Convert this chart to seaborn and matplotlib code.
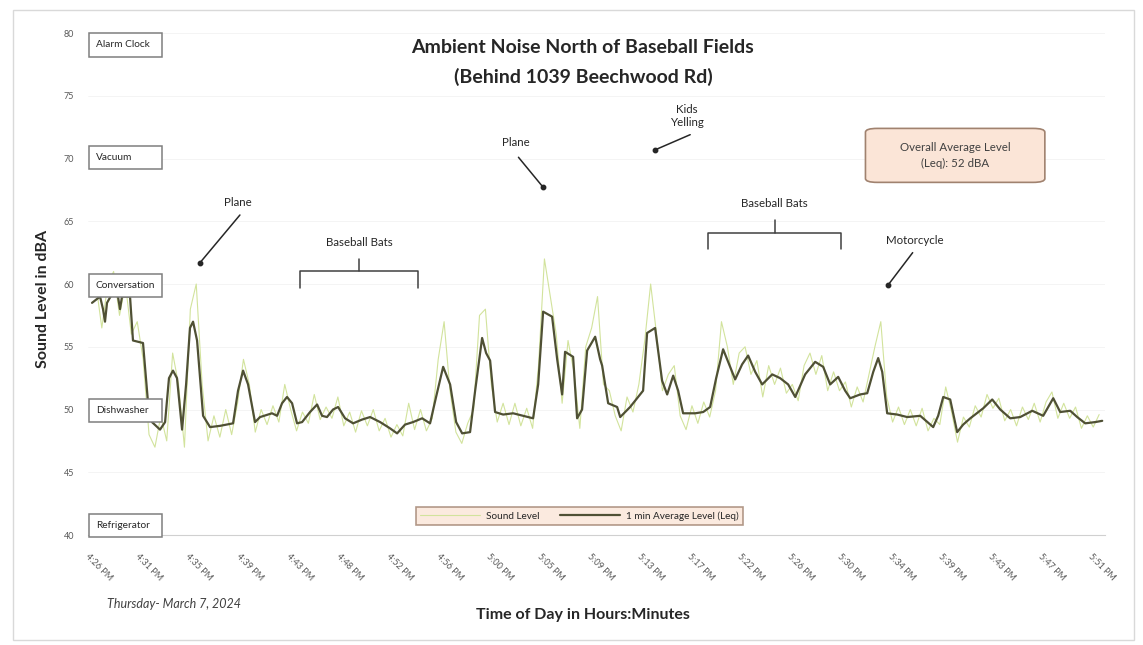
import numpy as np
import pandas as pd
import seaborn as sns
import matplotlib.pyplot as plt
from matplotlib.patches import Rectangle, FancyBboxPatch

sns.set_theme(style="white")
plt.rcParams['font.family'] = ['Lato', 'DejaVu Sans']

# 1-minute average level (Leq), minutes elapsed since 4:26 PM
avg_minutes = [0.17, 0.85, 1.1, 1.27, 1.44, 1.86, 2.37, 2.54, 2.71, 3.39, 3.64, 4.49, 4.92, 5.25,
               5.93, 6.36, 6.69, 7.03, 7.37, 7.8, 8.14, 8.47, 8.73, 9.07, 9.58, 10.17, 11.02, 12.12,
               12.54, 12.97, 13.39, 13.98, 14.41, 15.42, 15.85, 16.27, 16.69, 17.12, 17.54, 17.97,
               18.64, 19.24, 19.66, 20.08, 20.59, 21.02, 21.61, 22.29, 23.05, 23.73, 24.58, 25.42,
               26.02, 26.69, 27.37, 28.14, 28.81, 29.32, 29.92, 30.51, 31.02, 31.53, 32.2, 32.63,
               33.22, 33.56, 33.9, 34.32, 35.0, 35.85, 36.69, 37.54, 37.97, 38.39, 39.15, 39.58,
               40.0, 40.25, 40.93, 41.27, 41.69, 42.12, 42.8, 43.22, 43.39, 43.9, 44.66, 44.92,
               45.76, 46.86, 47.2, 47.88, 48.47, 48.9, 49.41, 49.83, 50.25, 51.27, 51.95, 52.54,
               53.05, 53.64, 54.66, 55.25, 55.76, 56.36, 56.95, 57.8, 58.47, 59.15, 59.75, 60.59,
               61.44, 62.12, 62.71, 63.39, 63.98, 64.41, 65.25, 65.85, 66.36, 66.78, 67.12, 67.54,
               68.39, 69.24, 70.34, 71.44, 71.86, 72.29, 72.88, 73.47, 73.98, 74.58, 75.68, 76.44,
               77.12, 77.97, 78.81, 79.83, 80.76, 81.61, 82.2, 83.05, 83.64, 84.32, 85.17, 85.76]
avg_level = [58.5, 59.0, 58.0, 57.0, 58.5, 59.2, 59.0, 58.0, 59.0, 59.0, 55.5, 55.3, 50.5, 49.0,
             48.4, 49.0, 52.5, 53.1, 52.5, 48.4, 52.0, 56.5, 57.0, 55.5, 49.5, 48.6, 48.7, 48.9,
             51.5, 53.1, 52.0, 49.0, 49.4, 49.7, 49.5, 50.5, 51.0, 50.5, 48.9, 49.0,
             49.8, 50.4, 49.5, 49.4, 50.0, 50.2, 49.3, 48.9, 49.2, 49.4, 49.0, 48.5,
             48.1, 48.8, 49.0, 49.3, 48.9, 51.0, 53.4, 52.0, 49.0, 48.1, 48.2, 51.5,
             55.7, 54.5, 53.9, 49.8, 49.6, 49.7, 49.5, 49.3, 52.0, 57.8, 57.4, 54.0,
             51.2, 54.6, 54.2, 49.3, 50.0, 54.7, 55.8, 54.0, 53.5, 50.5, 50.2, 49.4,
             50.2, 51.5, 56.1, 56.5, 52.3, 51.2, 52.7, 51.5, 49.7, 49.7, 49.8, 50.2,
             52.5, 54.8, 52.4, 53.6, 54.3, 53.0, 52.0, 52.8, 52.5, 52.0, 51.0, 52.8,
             53.8, 53.4, 52.0, 52.6, 51.5, 50.9, 51.2, 51.3, 53.0, 54.1, 53.0, 49.7,
             49.6, 49.4, 49.5, 48.6, 49.5, 51.0, 50.8, 48.2, 48.8, 49.3, 50.1, 50.8,
             50.0, 49.3, 49.4, 49.9, 49.5, 50.9, 49.8, 49.9, 49.4, 48.9, 49.0, 49.1]

# Instantaneous sound level, sampled every half minute
raw_step_minutes = 0.5
raw_level = [59, 60, 56.5, 60, 61, 57.5, 60, 56, 57, 54, 48, 47, 49.5, 47.5, 54.5, 52, 47, 58, 60, 52,
             47.5, 49.5, 47.8, 50, 48, 50.5, 54, 52, 48.2, 50, 48.8, 50.3, 49, 52, 50, 48.3, 49.8,
             48.9, 51.2, 49.2, 50.2, 49.3, 51, 48.7, 49.8, 48.2, 49.9, 48.7, 50, 48.3, 49.3, 47.8,
             48.8, 47.9, 50.5, 48.4, 50, 48.3, 49.3, 54, 57, 51.5, 48.2, 47.3, 48.9, 50, 57.5, 58,
             52, 49, 50.5, 48.8, 50.5, 48.7, 50.1, 48.5, 53.5, 62, 59, 56, 50.5, 55.5, 53, 48.5,
             55, 56.5, 59, 52, 51.5, 49.5, 48.3, 51, 49.8, 52, 55.5, 60, 56, 51.5, 52.8, 53.5,
             49.5, 48.4, 50.3, 48.9, 50.6, 49.4, 51.5, 57, 55, 52, 54.5, 55, 52.8, 53.9, 51,
             53.5, 52, 53.3, 51.3, 52, 50.7, 53.5, 54.5, 52.8, 54.3, 51.5, 53, 51.5, 52.2, 50.2,
             51.8, 50.6, 52.8, 55, 57, 51, 49, 50.2, 48.8, 50, 48.7, 50.1, 48.3, 49.3, 48.8,
             51.8, 49.8, 47.4, 49.4, 48.6, 50.3, 49.4, 51.2, 50.1, 50.9, 49.1, 50, 48.7, 50.2,
             49.2, 50.5, 49, 50.6, 51.4, 49.3, 50.5, 49.3, 50.2, 48.5, 49.5, 48.6, 49.6]
raw_minutes = np.arange(len(raw_level)) * raw_step_minutes

tick_labels = ["4:26 PM", "4:31 PM", "4:35 PM", "4:39 PM", "4:43 PM", "4:48 PM", "4:52 PM",
               "4:56 PM", "5:00 PM", "5:05 PM", "5:09 PM", "5:13 PM", "5:17 PM", "5:22 PM",
               "5:26 PM", "5:30 PM", "5:34 PM", "5:39 PM", "5:43 PM", "5:47 PM", "5:51 PM"]
tick_step_minutes = 4.25

reference_names = ["Alarm Clock", "Vacuum", "Conversation", "Dishwasher", "Refrigerator"]
reference_levels = [80, 70, 60, 50, 40]
overall_leq = 52

raw_df = pd.DataFrame({"minutes": raw_minutes, "level": raw_level})
avg_df = pd.DataFrame({"minutes": avg_minutes, "level": avg_level})

fig = plt.figure(figsize=(11.43, 6.45), dpi=100)
ax = fig.add_axes([0.077, 0.1705, 0.8898, 0.7783])

# Outer chart frame
fig.patches.append(Rectangle((0.011, 0.008), 0.981, 0.977, transform=fig.transFigure,
                             fill=False, edgecolor="#d9d9d9", linewidth=1.0))

sns.lineplot(data=raw_df, x="minutes", y="level", ax=ax, color="#d2e39c", linewidth=0.8,
             label="Sound Level", zorder=2)
sns.lineplot(data=avg_df, x="minutes", y="level", ax=ax, color="#4f5034", linewidth=1.6,
             label="1 min Average Level (Leq)", zorder=3)

ax.set_xlim(-0.17, 86.0)
ax.set_ylim(40, 80)
ax.set_yticks(np.arange(40, 81, 5))
ax.tick_params(axis="y", labelsize=6.5, colors="#595959", length=0, pad=10)
ax.set_xticks(np.arange(len(tick_labels)) * tick_step_minutes)
ax.set_xticklabels(tick_labels, rotation=-45, ha="left", va="top", rotation_mode="anchor",
                   fontsize=6.5, color="#595959")
ax.tick_params(axis="x", length=0, pad=12)
for side in ["top", "right", "left"]:
    ax.spines[side].set_visible(False)
ax.spines["bottom"].set_color("#d0d0d0")
ax.spines["bottom"].set_linewidth(0.8)
ax.grid(axis="y", color="#f3f3f3", linewidth=0.6)
ax.set_axisbelow(True)

ax.set_xlabel("Time of Day in Hours:Minutes", fontsize=11.5, fontweight="bold",
              color="#262626")
ax.set_ylabel("Sound Level in dBA", fontsize=11.5, fontweight="bold", color="#262626")
ax.xaxis.set_label_coords(0.487, -0.145)
ax.yaxis.set_label_coords(-0.037, 0.47)

fig.text(0.51, 0.926, "Ambient Noise North of Baseball Fields", ha="center", va="center",
         fontsize=14, fontweight="bold", color="#262626")
fig.text(0.51, 0.881, "(Behind 1039 Beechwood Rd)", ha="center", va="center",
         fontsize=14, fontweight="bold", color="#262626")
fig.text(0.152, 0.064, "Thursday- March 7, 2024", ha="center", va="center", fontsize=9,
         fontstyle="italic", color="#404040")

# Reference sound boxes along the y axis
box_w, box_h = 6.15, 1.85
box_centres = [79.05, 70.1, 59.9, 49.9, 40.75]
for name, yc in zip(reference_names, box_centres):
    ax.add_patch(Rectangle((-0.08, yc - box_h / 2), box_w, box_h, facecolor="white",
                           edgecolor="#7f7f7f", linewidth=1.1, zorder=5, clip_on=False))
    ax.text(0.5, yc, name, ha="left", va="center", fontsize=7.3, color="#262626", zorder=6)

# Overall average callout
ax.add_patch(FancyBboxPatch((65.7, 68.1), 15.2, 4.3, boxstyle="round,pad=0,rounding_size=1.0",
                            facecolor="#fbe5d7", edgecolor="#a0826f", linewidth=1.2,
                            mutation_aspect=0.3, zorder=5))
ax.text(73.3, 70.9, "Overall Average Level", ha="center", va="center", fontsize=8.3,
        color="#404040", zorder=6)
ax.text(73.3, 69.6, f"(Leq): {overall_leq} dBA", ha="center", va="center", fontsize=8.3,
        color="#404040", zorder=6)

# Event call-outs with dot-ended pointers
events = [("Plane", (12.54, 66.5), (12.7, 65.5), (9.32, 61.7)),
          ("Plane", (36.1, 71.3), (36.3, 70.1), (38.4, 67.7)),
          ("Kids\nYelling", (50.6, 73.4), (50.85, 71.9), (47.9, 70.7)),
          ("Motorcycle", (69.9, 63.5), (69.7, 62.5), (67.6, 59.9))]
for label, txt_xy, start, tip in events:
    ax.text(*txt_xy, label, ha="center", va="center", fontsize=8.3, color="#262626",
            linespacing=1.3, zorder=6)
    ax.plot([start[0], tip[0]], [start[1], tip[1]], color="#262626", linewidth=1.1, zorder=6)
    ax.plot([tip[0]], [tip[1]], marker="o", markersize=3.2, color="#262626", zorder=6)

# Brackets for bat noise periods
brackets = [("Baseball Bats", 17.8, 27.8, 61.0, 63.3),
            ("Baseball Bats", 52.4, 63.6, 64.1, 66.45)]
for label, x0, x1, yb, yt in brackets:
    xm = (x0 + x1) / 2
    ax.plot([x0, x0, x1, x1], [yb - 1.3, yb, yb, yb - 1.3], color="#404040", linewidth=1.1,
            zorder=6)
    ax.plot([xm, xm], [yb, yb + 1.0], color="#404040", linewidth=1.1, zorder=6)
    ax.text(xm, yt, label, ha="center", va="center", fontsize=8.3, color="#262626", zorder=6)

leg = ax.legend(loc="center", bbox_to_anchor=(0.483, 0.038), ncol=2, fontsize=7.2,
                frameon=True, fancybox=False, handlelength=6, columnspacing=2.0,
                borderpad=0.45, handletextpad=0.6)
leg.get_frame().set_facecolor("#fbe5d7")
leg.get_frame().set_edgecolor("#a0826f")
leg.get_frame().set_linewidth(1.2)
leg.set_zorder(7)

fig.savefig("out.png", dpi=100)
